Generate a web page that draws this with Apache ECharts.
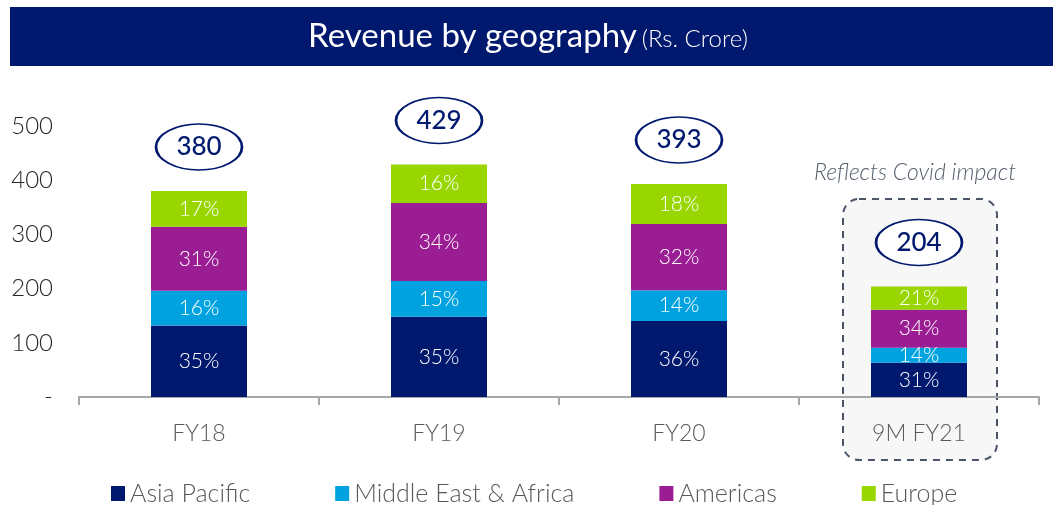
<!DOCTYPE html>
<html>
<head>
<meta charset="utf-8">
<script src="https://cdn.jsdelivr.net/npm/echarts@6/dist/echarts.min.js"></script>
<style>
  html, body { margin: 0; padding: 0; background: #fff; }
  #myChart { width: 1056px; height: 505px; }
</style>
</head>
<body>
<div id="myChart"></div>
<script>
// 数据
const categories = ['FY18', 'FY19', 'FY20', '9M FY21']
const asiaPacific = [132, 148, 140, 63]
const middleEastAfrica = [64, 66, 57, 28]
const americas = [118, 144, 122, 70]
const europe = [66, 71, 74, 43]
const totals = [380, 429, 393, 204]
// 柱内百分比标签
const asiaPct = ['35%', '35%', '36%', '31%']
const meaPct = ['16%', '15%', '14%', '14%']
const americasPct = ['31%', '34%', '32%', '34%']
const europePct = ['17%', '16%', '18%', '21%']
const yTicks = [0, 100, 200, 300, 400, 500]

const navy = '#00186e'
const font = 'Lato, "Open Sans", sans-serif'

function barSeries(name, data, pct, color) {
  return {
    name: name,
    type: 'bar',
    stack: 'total',
    barWidth: 96,
    data: data,
    itemStyle: { color: color },
    label: {
      show: true,
      position: 'inside',
      color: '#fff',
      fontFamily: font,
      fontWeight: 300,
      fontSize: 21,
      formatter: (p) => pct[p.dataIndex]
    },
    z: 3
  }
}

let myChart = echarts.init(document.getElementById('myChart'))
let option = {
  animation: false,
  title: {
    text: '{a|Revenue by geography} {b|(Rs. Crore)}',
    left: 'center',
    top: 15,
    textStyle: {
      rich: {
        a: { color: '#fff', fontSize: 33, fontFamily: font, fontWeight: 400 },
        b: { color: '#fff', fontSize: 24, fontFamily: font, fontWeight: 300, padding: [6, 0, 0, 0] }
      }
    }
  },
  legend: {
    left: 106,
    top: 476,
    icon: 'rect',
    itemWidth: 14,
    itemHeight: 15,
    itemGap: 85,
    data: ['Asia Pacific', 'Middle East & Africa', 'Americas', 'Europe'],
    textStyle: { color: '#595959', fontSize: 25, fontFamily: font, fontWeight: 300 }
  },
  grid: {
    left: 79,
    right: 17,
    top: 126,
    bottom: 108,
    containLabel: false
  },
  xAxis: {
    type: 'category',
    data: categories,
    axisLine: { lineStyle: { color: '#a6a6a6', width: 2 } },
    axisTick: { show: true, length: 8, lineStyle: { color: '#a6a6a6', width: 2 } },
    axisLabel: { color: '#595959', fontSize: 23, fontFamily: font, fontWeight: 300, margin: 25 }
  },
  yAxis: {
    type: 'value',
    min: 0,
    max: 500,
    interval: 100,
    splitLine: { show: false },
    axisLine: { show: false },
    axisTick: { show: false },
    axisLabel: {
      color: '#262626',
      fontSize: 24,
      fontFamily: font,
      fontWeight: 300,
      margin: 26,
      formatter: (v) => (yTicks.indexOf(v) === 0 ? '-' : String(v))
    }
  },
  series: [
    barSeries('Asia Pacific', asiaPacific, asiaPct, navy),
    barSeries('Middle East & Africa', middleEastAfrica, meaPct, '#00a3e0'),
    barSeries('Americas', americas, americasPct, '#9b1d93'),
    barSeries('Europe', europe, europePct, '#99d600'),
    {
      name: 'total',
      type: 'scatter',
      data: totals,
      symbol: 'circle',
      symbolSize: [86, 46],
      symbolOffset: [0, -44],
      clip: false,
      itemStyle: { color: '#fff', borderColor: navy, borderWidth: 2, opacity: 1 },
      label: {
        show: true,
        position: 'inside',
        color: navy,
        fontSize: 26,
        fontFamily: font,
        fontWeight: 500
      },
      z: 5
    }
  ]
}
myChart.setOption(option)

// 标题背景条 + 9M FY21 虚线框
let pTop = myChart.convertToPixel({ xAxisIndex: 0, yAxisIndex: 0 }, ['9M FY21', 0])
let cx = pTop[0]
myChart.setOption({
  graphic: [
    {
      type: 'rect',
      shape: { x: 10, y: 7, width: 1043, height: 59 },
      style: { fill: navy },
      z: -1
    },
    {
      type: 'rect',
      shape: { x: cx - 76, y: 199, width: 154, height: 261, r: 16 },
      style: { fill: '#f7f7f7', stroke: '#4a5668', lineWidth: 2, lineDash: [7, 6] },
      z: -1
    },
    {
      type: 'text',
      x: cx - 4,
      y: 173,
      style: {
        text: 'Reflects Covid impact',
        fill: '#56606e',
        fontSize: 23,
        fontStyle: 'italic',
        fontWeight: 300,
        fontFamily: font,
        align: 'center',
        verticalAlign: 'middle'
      }
    }
  ]
})
</script>
</body>
</html>
